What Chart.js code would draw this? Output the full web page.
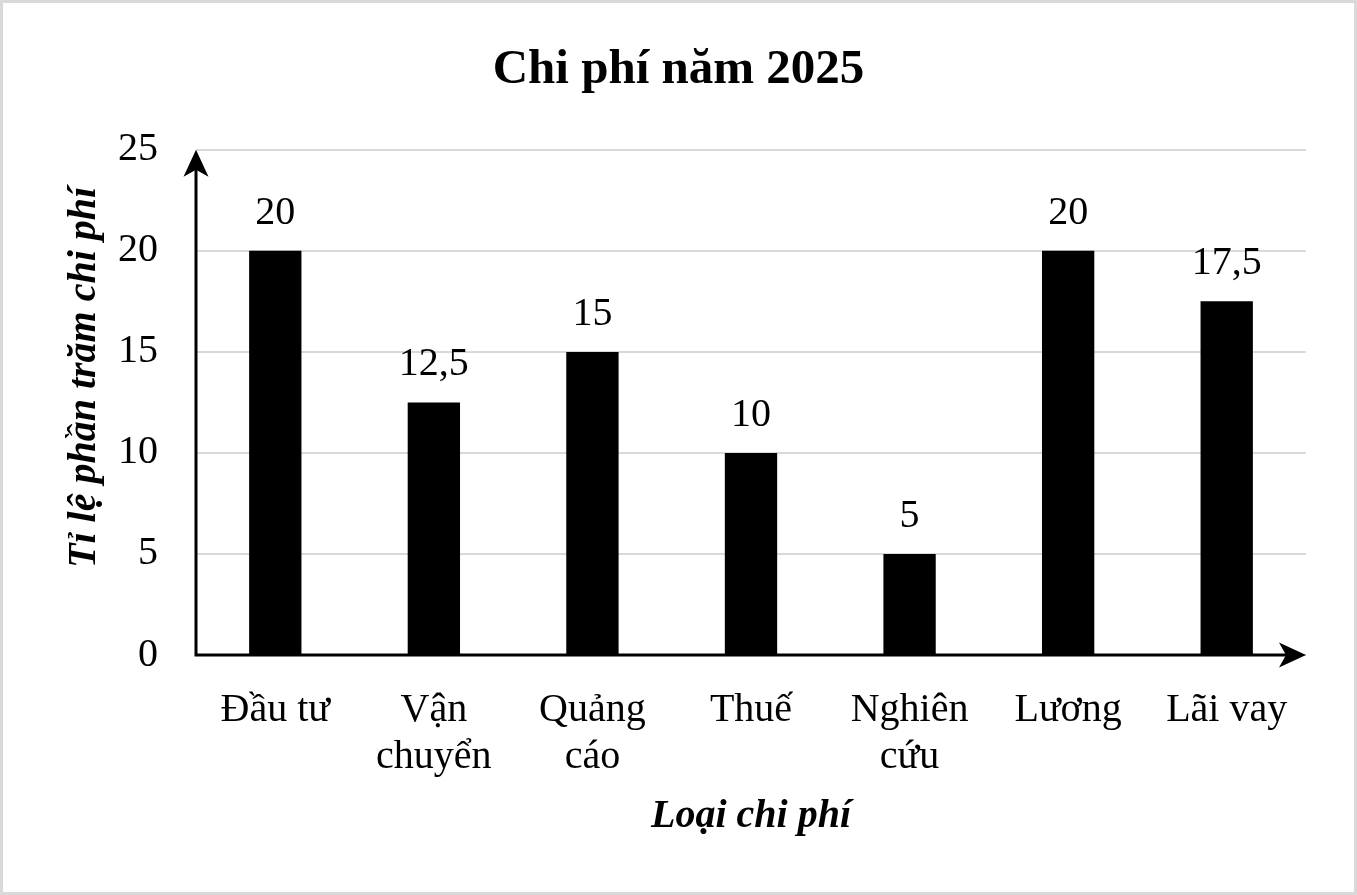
<!DOCTYPE html>
<html>
<head>
<meta charset="utf-8">
<script src="https://cdn.jsdelivr.net/npm/chart.js@4"></script>
<style>
  html, body { margin: 0; padding: 0; background: #fff; }
  #wrap { width: 1357px; height: 895px; }
</style>
</head>
<body>
<div id="wrap"><canvas id="costChart" width="1357" height="895"></canvas></div>
<script>
// data
const categories = [['Đầu tư'], ['Vận', 'chuyển'], ['Quảng', 'cáo'], ['Thuế'], ['Nghiên', 'cứu'], ['Lương'], ['Lãi vay']];
const percentValues = [20, 12.5, 15, 10, 5, 20, 17.5];
const yTicks = [0, 5, 10, 15, 20, 25];

const serif = '"Liberation Serif", "Times New Roman", serif';

// value labels over the bars, comma as decimal sign
const barLabels = {
    id: 'barLabels',
    afterDatasetsDraw(chart) {
        const ctx = chart.ctx;
        const meta = chart.getDatasetMeta(0);
        ctx.save();
        ctx.font = '40px ' + serif;
        ctx.fillStyle = '#000';
        ctx.textAlign = 'center';
        ctx.textBaseline = 'alphabetic';
        meta.data.forEach(function (bar, i) {
            const txt = String(percentValues[i]).replace('.', ',');
            ctx.fillText(txt, bar.x, bar.y - 27);
        });
        ctx.restore();
    }
};

// axis lines with arrow heads + picture border
function arrowHead(ctx, x, y, angle) {
    ctx.save();
    ctx.translate(x, y);
    ctx.rotate(angle);
    ctx.beginPath();
    ctx.moveTo(0, 0);
    ctx.lineTo(-27, -12.5);
    ctx.lineTo(-20, 0);
    ctx.lineTo(-27, 12.5);
    ctx.closePath();
    ctx.fill();
    ctx.restore();
}

const arrowAxes = {
    id: 'arrowAxes',
    afterDraw(chart) {
        const ctx = chart.ctx;
        const a = chart.chartArea;
        ctx.save();
        ctx.strokeStyle = '#000';
        ctx.fillStyle = '#000';
        ctx.lineWidth = 3;
        ctx.beginPath();
        ctx.moveTo(a.left, a.bottom);
        ctx.lineTo(a.left, a.top + 15);
        ctx.moveTo(a.left - 1.5, a.bottom);
        ctx.lineTo(a.right - 15, a.bottom);
        ctx.stroke();
        arrowHead(ctx, a.left, a.top, -Math.PI / 2);
        arrowHead(ctx, a.right, a.bottom, 0);

        ctx.strokeStyle = '#d9d9d9';
        ctx.lineWidth = 3;
        ctx.strokeRect(1.5, 1.5, chart.width - 3, chart.height - 3);
        ctx.restore();
    }
};

const ctxBar = document.getElementById('costChart').getContext('2d');
new Chart(ctxBar, {
    type: 'bar',
    data: {
        labels: categories,
        datasets: [{
            label: 'Tỉ lệ phần trăm chi phí',
            data: percentValues,
            backgroundColor: '#000',
            borderWidth: 0,
            barPercentage: 0.33,
            categoryPercentage: 1
        }]
    },
    options: {
        responsive: false,
        animation: false,
        layout: {
            padding: { left: 51, right: 51, top: 0, bottom: 0 }
        },
        plugins: {
            legend: { display: false },
            tooltip: { enabled: false },
            title: {
                display: true,
                text: 'Chi phí năm 2025',
                color: '#000',
                font: { family: serif, size: 49, weight: 'bold', lineHeight: 1.2 },
                padding: { top: 41, bottom: 50 }
            }
        },
        scales: {
            x: {
                grid: { display: false },
                border: { display: false },
                ticks: {
                    color: '#000',
                    autoSkip: false,
                    maxRotation: 0,
                    padding: 24,
                    font: { family: serif, size: 40, lineHeight: 1.17 }
                },
                title: {
                    display: true,
                    text: 'Loại chi phí',
                    color: '#000',
                    font: { family: serif, size: 40, weight: 'bold', style: 'italic', lineHeight: 1.2 },
                    padding: { top: 0, bottom: 54 }
                },
                afterFit(scale) { scale.height = 240; }
            },
            y: {
                min: 0,
                max: 25,
                grid: { color: '#d9d9d9', lineWidth: 2, drawTicks: false },
                border: { display: false },
                afterBuildTicks(scale) {
                    scale.ticks = yTicks.map(function (v) { return { value: v }; });
                },
                ticks: {
                    color: '#000',
                    padding: 38,
                    font: { family: serif, size: 40 }
                },
                title: {
                    display: true,
                    text: '     Tỉ lệ phần trăm chi phí',
                    color: '#000',
                    font: { family: serif, size: 40, weight: 'bold', style: 'italic', lineHeight: 1.2 },
                    padding: { top: 10, bottom: 0 }
                },
                afterFit(scale) { scale.width = 145; }
            }
        }
    },
    plugins: [barLabels, arrowAxes]
});
</script>
</body>
</html>
